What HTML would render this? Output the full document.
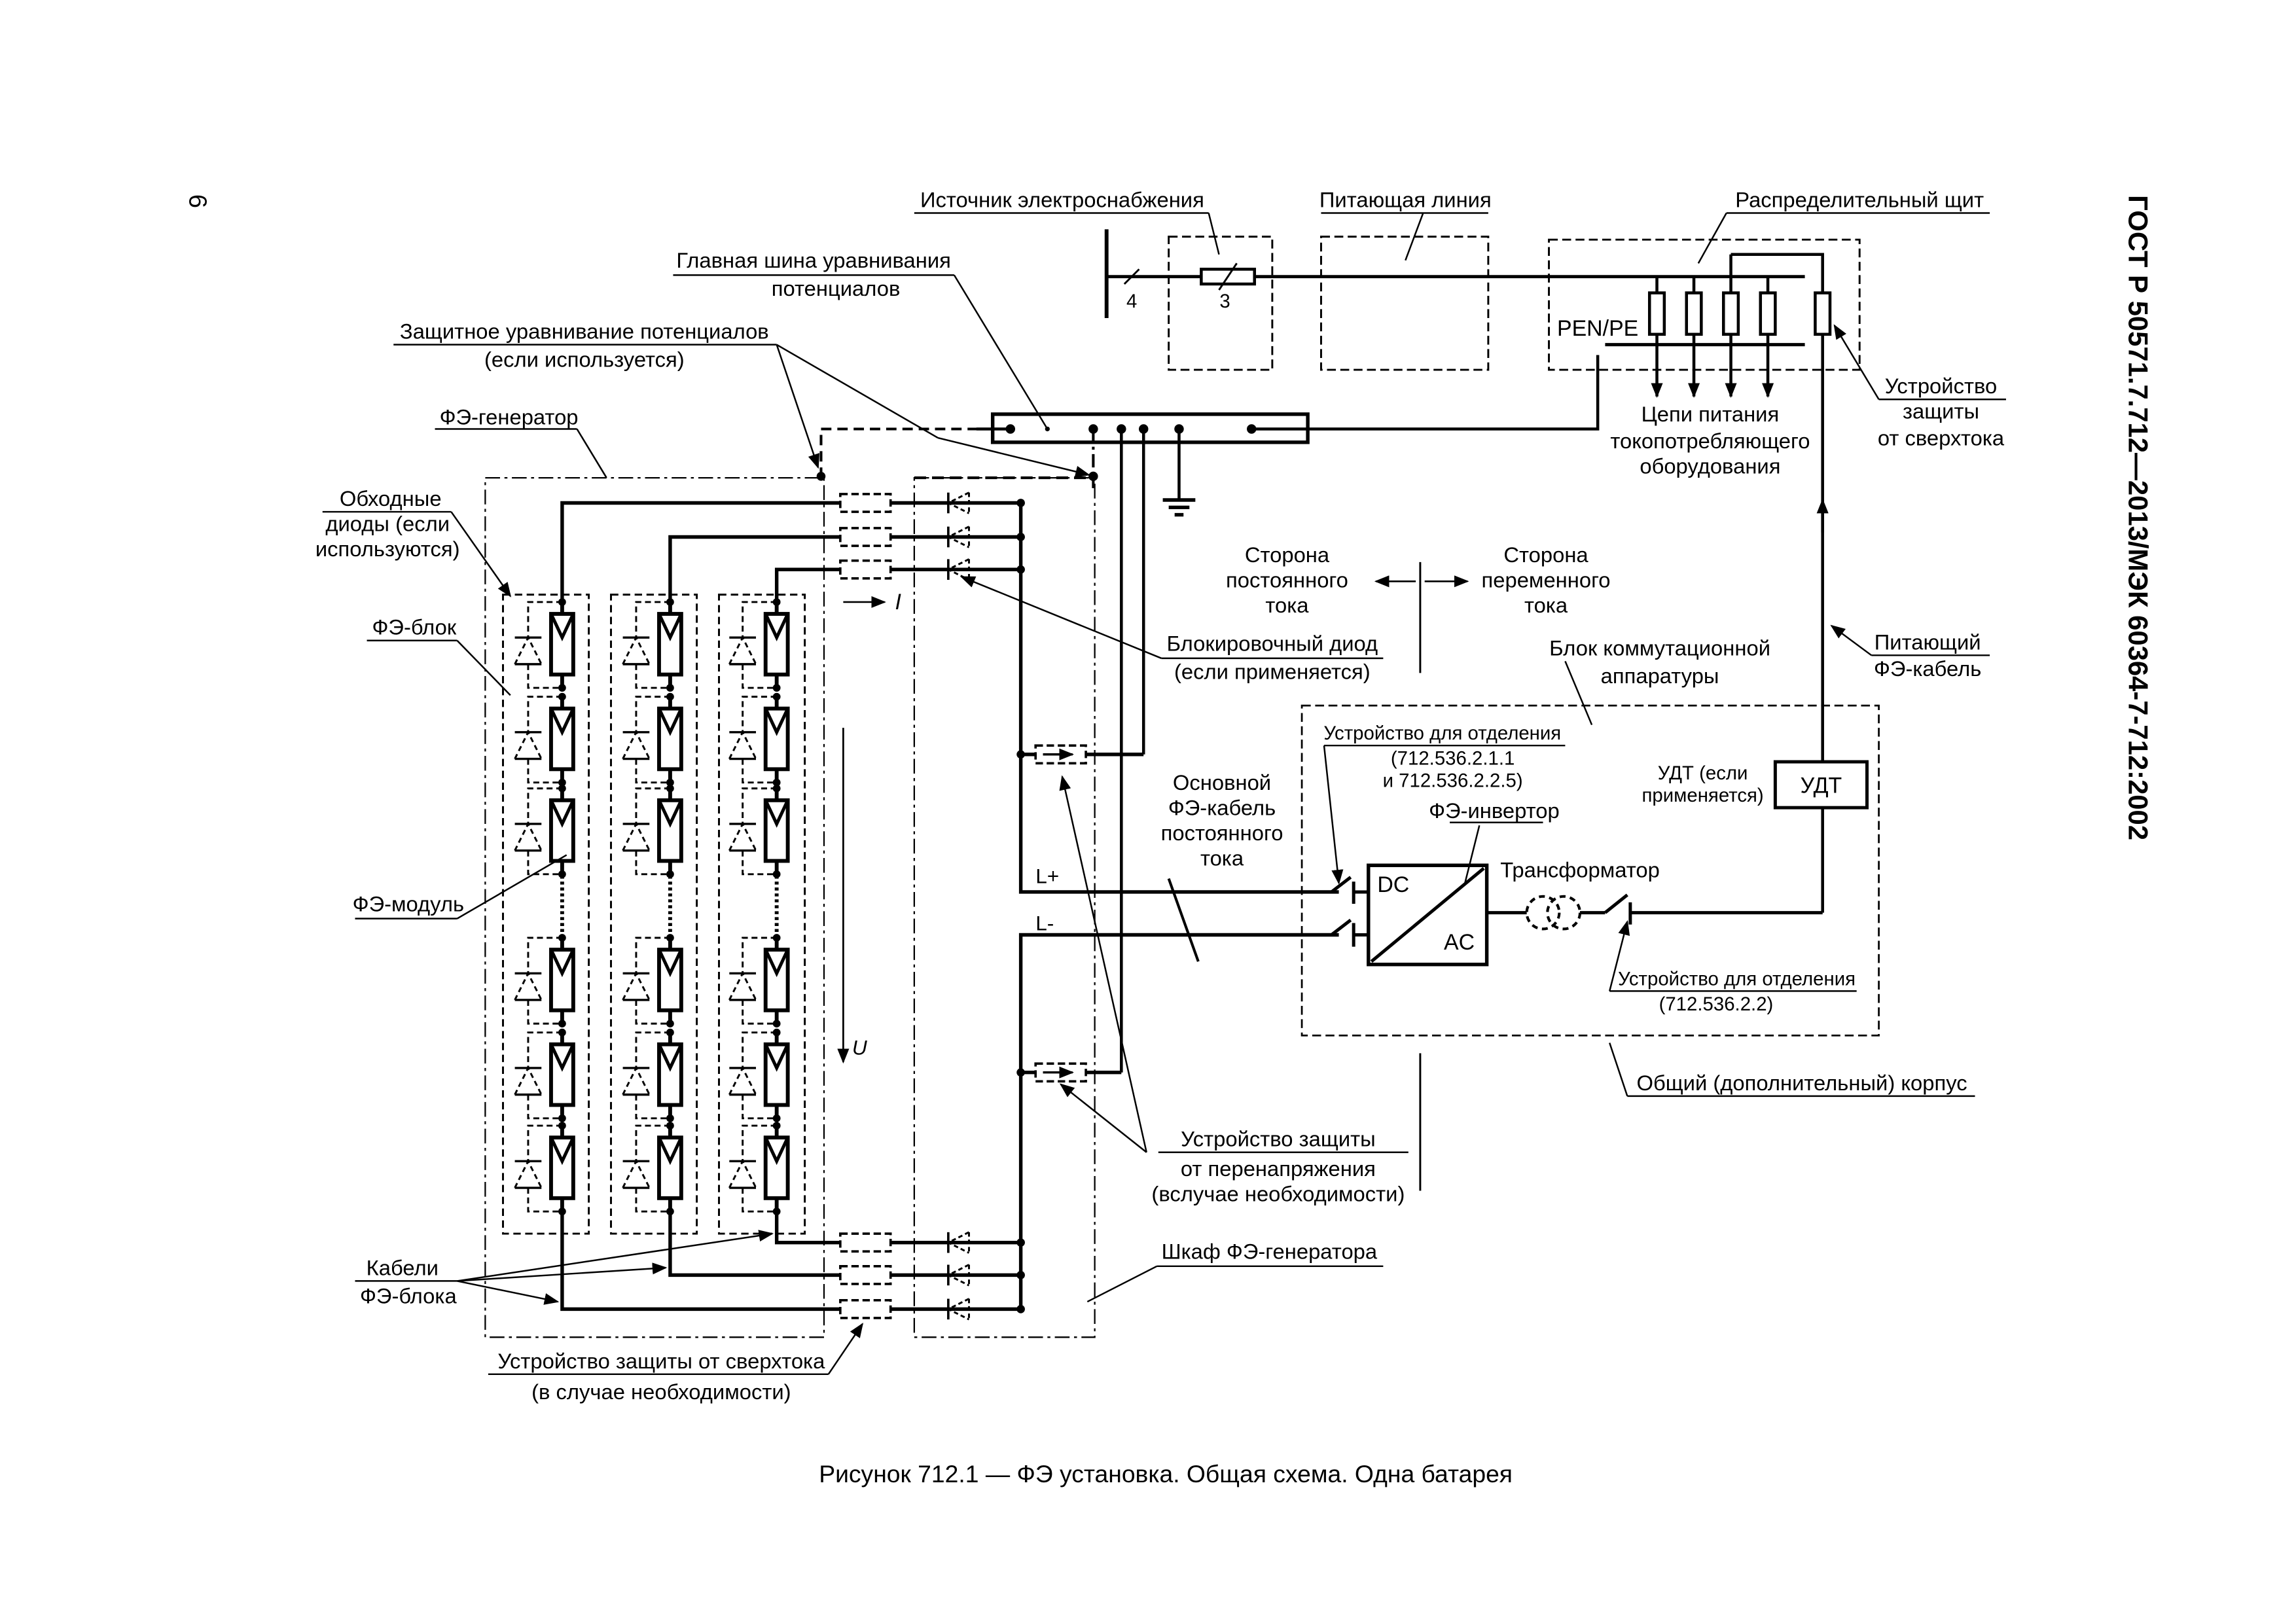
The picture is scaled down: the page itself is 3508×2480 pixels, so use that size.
<!DOCTYPE html>
<html><head><meta charset="utf-8">
<style>
html,body{margin:0;padding:0;background:#fff;}
svg{display:block;}
text{font-family:"Liberation Sans",Arial,sans-serif;fill:#000;}
</style></head>
<body>
<svg width="3508" height="2480" viewBox="0 0 1552 1097.2" preserveAspectRatio="none" xmlns="http://www.w3.org/2000/svg">
<defs>
<marker id="ar" markerWidth="10" markerHeight="8" refX="9" refY="4" orient="auto" markerUnits="userSpaceOnUse"><path d="M0,0 L10,4 L0,8 Z" fill="#000"/></marker>
<g id="mod">
 <line x1="0" y1="-8" x2="0" y2="0" stroke="#000" stroke-width="2.6"/>
 <rect x="-7.5" y="0" width="15" height="41" fill="#fff" stroke="#000" stroke-width="2.6"/>
 <polyline points="-7.5,0 0,16 7.5,0" fill="none" stroke="#000" stroke-width="2.2"/>
 <line x1="0" y1="41" x2="0" y2="50" stroke="#000" stroke-width="2.6"/>
 <circle cx="0" cy="-8" r="2.6"/>
 <circle cx="0" cy="50" r="2.6"/>
 <polyline points="0,-8 -23,-8 -23,16" fill="none" stroke="#000" stroke-width="1.3" stroke-dasharray="4,2.5"/>
 <polyline points="-23,34 -23,50 0,50" fill="none" stroke="#000" stroke-width="1.3" stroke-dasharray="4,2.5"/>
 <line x1="-32" y1="16" x2="-14" y2="16" stroke="#000" stroke-width="1.5"/>
 <line x1="-32" y1="34" x2="-14" y2="34" stroke="#000" stroke-width="1.5"/>
 <polyline points="-32,34 -23,16 -14,34" fill="none" stroke="#000" stroke-width="1.3" stroke-dasharray="3.5,2.5"/>
</g>
<g id="string">
 <use href="#mod" y="415"/>
 <use href="#mod" y="479"/>
 <use href="#mod" y="541"/>
 <line x1="0" y1="592" x2="0" y2="634" stroke="#000" stroke-width="2.6" stroke-dasharray="2,2"/>
 <use href="#mod" y="642"/>
 <use href="#mod" y="706"/>
 <use href="#mod" y="769"/>
</g>
<g id="fusebox"><rect x="0" y="-6" width="34" height="12" fill="#fff" stroke="#000" stroke-width="1.6" stroke-dasharray="5,2.5"/></g>
<g id="bdiode">
 <line x1="-7" y1="-7" x2="-7" y2="7" stroke="#000" stroke-width="1.6"/>
 <polyline points="7,-7 -7,0 7,7" fill="none" stroke="#000" stroke-width="1.3" stroke-dasharray="3,2"/>
 <line x1="7" y1="-7" x2="7" y2="7" stroke="#000" stroke-width="1.3" stroke-dasharray="3,2"/>
</g>
</defs>

<text x="0" y="0" font-size="17" transform="translate(128,136) rotate(90)" text-anchor="middle">6</text>
<text x="0" y="0" font-size="18.5" font-weight="bold" transform="translate(1439,350) rotate(90)" text-anchor="middle">ГОСТ Р 50571.7.712—2013/МЭК 60364-7-712:2002</text>

<text x="788" y="1002" font-size="16.5" text-anchor="middle">Рисунок 712.1 — ФЭ установка. Общая схема. Одна батарея</text>

<g stroke="#000" fill="none">
<rect x="790" y="160" width="70" height="90" stroke-width="1.3" stroke-dasharray="6,3"/>
<rect x="893" y="160" width="113" height="90" stroke-width="1.3" stroke-dasharray="6,3"/>
<rect x="1047" y="162" width="210" height="88" stroke-width="1.3" stroke-dasharray="6,3"/>
<line x1="748" y1="155" x2="748" y2="215" stroke-width="2.6"/>
<line x1="748" y1="187" x2="1220" y2="187" stroke-width="2.2"/>
<line x1="760" y1="192" x2="770" y2="182" stroke-width="1.3"/>
<rect x="812" y="182" width="36" height="10" fill="#fff" stroke-width="2"/>
<line x1="824" y1="196" x2="836" y2="178" stroke-width="1.3"/>
<line x1="1085" y1="233" x2="1220" y2="233" stroke-width="2.2"/>
<g stroke-width="2">
<line x1="1120" y1="187" x2="1120" y2="268" marker-end="url(#ar)"/><rect x="1115" y="198" width="10" height="28" fill="#fff"/>
<line x1="1145" y1="187" x2="1145" y2="268" marker-end="url(#ar)"/><rect x="1140" y="198" width="10" height="28" fill="#fff"/>
<line x1="1170" y1="172" x2="1170" y2="268" marker-end="url(#ar)"/><rect x="1165" y="198" width="10" height="28" fill="#fff"/>
<line x1="1195" y1="187" x2="1195" y2="268" marker-end="url(#ar)"/><rect x="1190" y="198" width="10" height="28" fill="#fff"/>
<polyline points="1170,172 1232,172 1232,198"/>
<rect x="1227" y="198" width="10" height="28" fill="#fff"/>
<line x1="1232" y1="226" x2="1232" y2="617"/>
</g>
<line x1="1232" y1="360" x2="1232" y2="338" stroke-width="2" marker-end="url(#ar)"/>
<polyline points="1080,240 1080,290 846,290" stroke-width="2"/>

<rect x="671" y="280" width="213" height="19" stroke-width="2.4"/>
<polyline points="660,290 683,290" stroke-width="2"/>
<polyline points="739,290 739,330" stroke-width="1.8" stroke-dasharray="9,3,2,3"/>
<line x1="758" y1="290" x2="758" y2="725" stroke-width="2"/>
<line x1="773" y1="290" x2="773" y2="510" stroke-width="2"/>
<line x1="797" y1="290" x2="797" y2="338" stroke-width="2"/>
<line x1="786" y1="338" x2="808" y2="338" stroke-width="2.4"/>
<line x1="790" y1="343" x2="804" y2="343" stroke-width="2.4"/>
<line x1="794" y1="348" x2="800" y2="348" stroke-width="2.4"/>
<polyline points="555,323 555,290 671,290" stroke-width="1.8" stroke-dasharray="7,4"/>

<rect x="328" y="323" width="229" height="581" stroke-width="1" stroke-dasharray="10,3,2,3"/>
<rect x="618" y="323" width="122" height="581" stroke-width="1" stroke-dasharray="10,3,2,3"/>
<line x1="618" y1="323" x2="740" y2="323" stroke-width="1.8" stroke-dasharray="8,4"/>

<rect x="340" y="402" width="58" height="432" stroke-width="1.3" stroke-dasharray="5,3"/>
<rect x="413" y="402" width="58" height="432" stroke-width="1.3" stroke-dasharray="5,3"/>
<rect x="486" y="402" width="58" height="432" stroke-width="1.3" stroke-dasharray="5,3"/>
</g>

<g fill="#000">
<use href="#string" x="380"/>
<use href="#string" x="453"/>
<use href="#string" x="525"/>
</g>

<g stroke="#000" fill="none" stroke-width="2.4">
<polyline points="380,407 380,340 690,340"/>
<polyline points="453,407 453,363 690,363"/>
<polyline points="525,407 525,385 690,385"/>
<polyline points="525,819 525,840 690,840"/>
<polyline points="453,819 453,862 690,862"/>
<polyline points="380,819 380,885 690,885"/>
<polyline points="690,340 690,603 905,603"/>
<polyline points="905,632 690,632 690,885"/>
<line x1="690" y1="510" x2="773" y2="510"/>
<line x1="690" y1="725" x2="758" y2="725"/>
</g>
<g fill="#000">
<circle cx="690" cy="363" r="2.8"/><circle cx="690" cy="385" r="2.8"/>
<circle cx="690" cy="340" r="2.8"/><circle cx="690" cy="840" r="2.8"/><circle cx="690" cy="862" r="2.8"/><circle cx="690" cy="885" r="2.8"/>
<circle cx="690" cy="510" r="2.8"/><circle cx="690" cy="725" r="2.8"/>
<circle cx="683" cy="290" r="3.2"/><circle cx="739" cy="290" r="3.2"/><circle cx="758" cy="290" r="3.2"/><circle cx="773" cy="290" r="3.2"/><circle cx="797" cy="290" r="3.2"/><circle cx="846" cy="290" r="3.2"/>
<circle cx="739" cy="322" r="3.2"/><circle cx="555" cy="322" r="3"/>
<circle cx="708" cy="290" r="1.6"/>
<use href="#fusebox" x="568" y="340"/><use href="#fusebox" x="568" y="363"/><use href="#fusebox" x="568" y="385"/>
<use href="#fusebox" x="568" y="840"/><use href="#fusebox" x="568" y="862"/><use href="#fusebox" x="568" y="885"/>
<use href="#bdiode" x="648" y="340"/><use href="#bdiode" x="648" y="363"/><use href="#bdiode" x="648" y="385"/>
<use href="#bdiode" x="648" y="840"/><use href="#bdiode" x="648" y="862"/><use href="#bdiode" x="648" y="885"/>
</g>
<g stroke="#000" fill="none">
<rect x="700" y="504" width="34" height="12" stroke-width="1.6" stroke-dasharray="5,2.5" fill="#fff"/>
<line x1="705" y1="510" x2="725" y2="510" stroke-width="1.5" marker-end="url(#ar)"/>
<rect x="700" y="719" width="34" height="12" stroke-width="1.6" stroke-dasharray="5,2.5" fill="#fff"/>
<line x1="705" y1="725" x2="725" y2="725" stroke-width="1.5" marker-end="url(#ar)"/>
</g>

<g stroke="#000" stroke-width="1.2" fill="none">
<line x1="570" y1="407" x2="598" y2="407" marker-end="url(#ar)"/>
<line x1="570" y1="492" x2="570" y2="718" marker-end="url(#ar)"/>
</g>
<text x="605" y="412" font-size="15" font-style="italic" font-family="Liberation Serif">I</text>
<text x="576" y="713" font-size="14" font-style="italic">U</text>
<text x="700" y="597" font-size="14">L+</text>
<text x="700" y="629" font-size="14">L-</text>

<g stroke="#000" fill="none">
<rect x="880" y="477" width="390" height="223" stroke-width="1.2" stroke-dasharray="6,3"/>
<rect x="925" y="585" width="80" height="67" stroke-width="2.4"/>
<line x1="927" y1="650" x2="1003" y2="587" stroke-width="2.2"/>
<g stroke-width="2.2">
<line x1="880" y1="603" x2="900" y2="603"/><line x1="900" y1="603" x2="913" y2="593"/><line x1="915" y1="596" x2="915" y2="611"/><line x1="915" y1="603" x2="925" y2="603"/>
<line x1="880" y1="632" x2="900" y2="632"/><line x1="900" y1="632" x2="913" y2="622"/><line x1="915" y1="624" x2="915" y2="640"/><line x1="915" y1="632" x2="925" y2="632"/>
<line x1="1005" y1="617" x2="1032" y2="617"/>
<line x1="1068" y1="617" x2="1085" y2="617"/><line x1="1085" y1="617" x2="1100" y2="605"/><line x1="1102" y1="610" x2="1102" y2="625"/><line x1="1102" y1="617" x2="1232" y2="617"/>
</g>
<circle cx="1043" cy="617" r="11" stroke-width="1.8" stroke-dasharray="4,3"/>
<circle cx="1057" cy="617" r="11" stroke-width="1.8" stroke-dasharray="4,3"/>
<rect x="1200" y="515" width="62" height="31" stroke-width="2.2" fill="#fff"/>
<line x1="960" y1="380" x2="960" y2="455" stroke-width="1.3"/>
<line x1="960" y1="712" x2="960" y2="805" stroke-width="1.3"/>
<line x1="957" y1="393" x2="930" y2="393" stroke-width="1.2" marker-end="url(#ar)"/>
<line x1="963" y1="393" x2="992" y2="393" stroke-width="1.2" marker-end="url(#ar)"/>
</g>
<g font-size="15">
<text x="931" y="603">DC</text>
<text x="976" y="642">AC</text>
<text x="1231" y="536" text-anchor="middle">УДТ</text>
</g>

<g font-size="14.5" text-anchor="middle">
<text x="718" y="140">Источник электроснабжения</text>
<text x="950" y="140">Питающая линия</text>
<text x="1257" y="140">Распределительный щит</text>
<text x="550" y="181">Главная шина уравнивания</text>
<text x="565" y="200">потенциалов</text>
<text x="395" y="229">Защитное уравнивание потенциалов</text>
<text x="395" y="248">(если используется)</text>
<text x="344" y="287">ФЭ-генератор</text>
<text x="264" y="342">Обходные</text>
<text x="262" y="359">диоды (если</text>
<text x="262" y="376">используются)</text>
<text x="280" y="429">ФЭ-блок</text>
<text x="276" y="616">ФЭ-модуль</text>
<text x="272" y="862">Кабели</text>
<text x="276" y="881">ФЭ-блока</text>
<text x="447" y="925">Устройство защиты от сверхтока</text>
<text x="447" y="946">(в случае необходимости)</text>
<text x="765" y="208" font-size="13">4</text>
<text x="828" y="208" font-size="13">3</text>
<text x="1080" y="227" font-size="15">PEN/PE</text>
<text x="1156" y="285">Цепи питания</text>
<text x="1156" y="303">токопотребляющего</text>
<text x="1156" y="320">оборудования</text>
<text x="1312" y="266">Устройство</text>
<text x="1312" y="283">защиты</text>
<text x="1312" y="301">от сверхтока</text>
<text x="870" y="380">Сторона</text>
<text x="870" y="397">постоянного</text>
<text x="870" y="414">тока</text>
<text x="1045" y="380">Сторона</text>
<text x="1045" y="397">переменного</text>
<text x="1045" y="414">тока</text>
<text x="860" y="440">Блокировочный диод</text>
<text x="860" y="459">(если применяется)</text>
<text x="1122" y="443">Блок коммутационной</text>
<text x="1122" y="462">аппаратуры</text>
<text x="1303" y="439">Питающий</text>
<text x="1303" y="457">ФЭ-кабель</text>
<text x="975" y="500" font-size="13">Устройство для отделения</text>
<text x="982" y="517" font-size="13">(712.536.2.1.1</text>
<text x="982" y="532" font-size="13">и 712.536.2.2.5)</text>
<text x="1151" y="527" font-size="13">УДТ (если</text>
<text x="1151" y="542" font-size="13">применяется)</text>
<text x="1010" y="553">ФЭ-инвертор</text>
<text x="1068" y="593">Трансформатор</text>
<text x="826" y="534">Основной</text>
<text x="826" y="551">ФЭ-кабель</text>
<text x="826" y="568">постоянного</text>
<text x="826" y="585">тока</text>
<text x="1174" y="666" font-size="13">Устройство для отделения</text>
<text x="1160" y="683" font-size="13">(712.536.2.2)</text>
<text x="1218" y="737">Общий (дополнительный) корпус</text>
<text x="864" y="775">Устройство защиты</text>
<text x="864" y="795">от перенапряжения</text>
<text x="864" y="812">(вслучае необходимости)</text>
<text x="858" y="851">Шкаф ФЭ-генератора</text>
</g>

<g stroke="#000" stroke-width="1.1" fill="none">
<line x1="618" y1="144" x2="817" y2="144"/><line x1="817" y1="144" x2="824" y2="172"/>
<line x1="893" y1="144" x2="1006" y2="144"/><line x1="962" y1="144" x2="950" y2="176"/>
<line x1="1167" y1="144" x2="1345" y2="144"/><line x1="1167" y1="144" x2="1148" y2="178"/>
<line x1="455" y1="186" x2="645" y2="186"/><line x1="645" y1="186" x2="708" y2="290"/>
<line x1="266" y1="233" x2="525" y2="233"/>
<line x1="525" y1="233" x2="553" y2="316" marker-end="url(#ar)"/>
<line x1="525" y1="233" x2="634" y2="296"/><line x1="634" y1="296" x2="736" y2="321" marker-end="url(#ar)"/>
<line x1="294" y1="290" x2="390" y2="290"/><line x1="390" y1="290" x2="410" y2="323"/>
<line x1="218" y1="346" x2="305" y2="346"/><line x1="305" y1="346" x2="345" y2="403" marker-end="url(#ar)"/>
<line x1="248" y1="433" x2="309" y2="433"/><line x1="309" y1="433" x2="345" y2="470"/>
<line x1="240" y1="621" x2="309" y2="621"/><line x1="309" y1="621" x2="383" y2="578"/>
<line x1="240" y1="866" x2="309" y2="866"/>
<line x1="309" y1="866" x2="377" y2="880" marker-end="url(#ar)"/>
<line x1="309" y1="866" x2="450" y2="857" marker-end="url(#ar)"/>
<line x1="309" y1="866" x2="522" y2="834" marker-end="url(#ar)"/>
<line x1="330" y1="929" x2="560" y2="929"/><line x1="560" y1="929" x2="583" y2="895" marker-end="url(#ar)"/>
<line x1="1270" y1="270" x2="1356" y2="270"/><line x1="1270" y1="270" x2="1240" y2="220" marker-end="url(#ar)"/>
<line x1="1265" y1="443" x2="1345" y2="443"/><line x1="1265" y1="443" x2="1238" y2="423" marker-end="url(#ar)"/>
<line x1="785" y1="445" x2="935" y2="445"/><line x1="785" y1="445" x2="650" y2="390" marker-end="url(#ar)"/>
<line x1="1058" y1="447" x2="1076" y2="490"/>
<line x1="895" y1="504" x2="1058" y2="504"/><line x1="895" y1="504" x2="905" y2="597" marker-end="url(#ar)"/>
<line x1="980" y1="556" x2="1043" y2="556"/><line x1="1000" y1="558" x2="990" y2="598"/>
<line x1="1088" y1="670" x2="1255" y2="670"/><line x1="1088" y1="670" x2="1100" y2="623" marker-end="url(#ar)"/>
<line x1="1100" y1="741" x2="1335" y2="741"/><line x1="1100" y1="741" x2="1088" y2="705"/>
<line x1="790" y1="594" x2="810" y2="650" stroke-width="1.8"/>
<line x1="783" y1="779" x2="952" y2="779"/>
<line x1="775" y1="779" x2="718" y2="525" marker-end="url(#ar)"/>
<line x1="775" y1="779" x2="717" y2="733" marker-end="url(#ar)"/>
<line x1="782" y1="856" x2="935" y2="856"/><line x1="782" y1="856" x2="735" y2="880"/>
</g>
</svg>
</body></html>
